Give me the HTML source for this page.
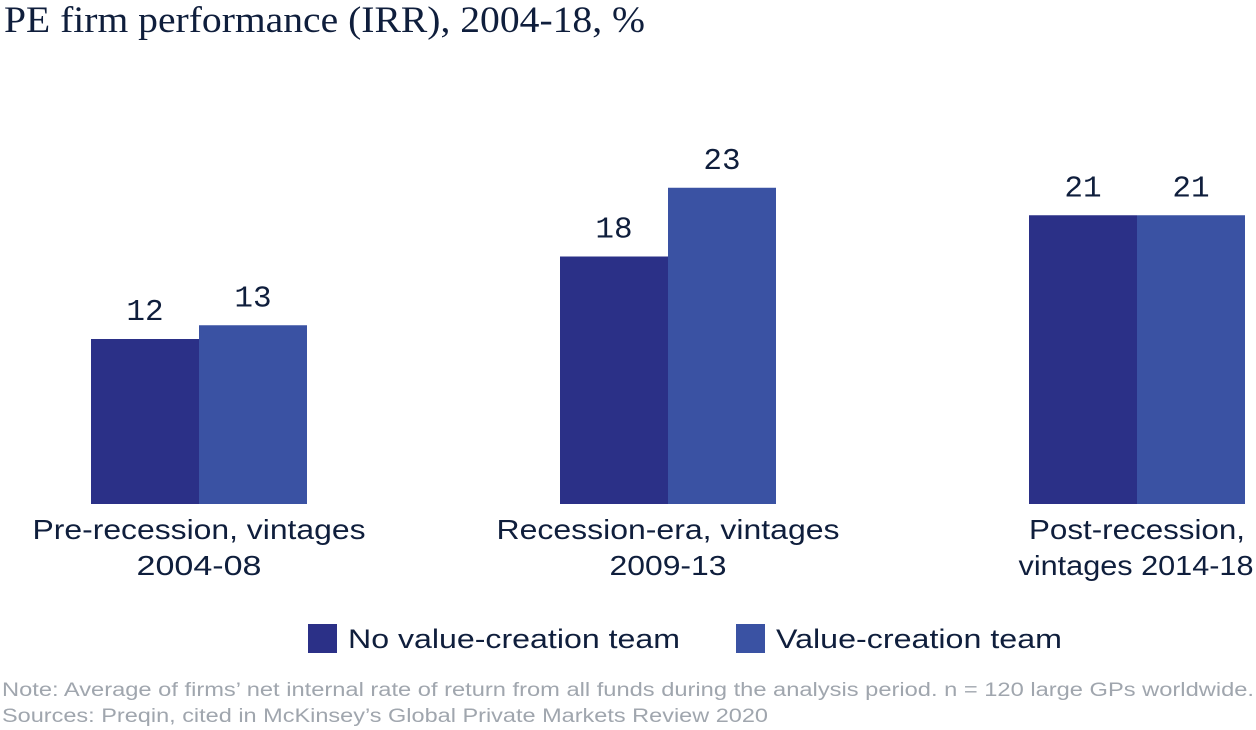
<!DOCTYPE html>
<html><head><meta charset="utf-8"><style>
body{margin:0;background:#fff;width:1256px;height:730px;overflow:hidden}
svg{display:block}
</style></head><body>
<svg id="chart" width="1256" height="730">
<text x="4" y="32" font-family="Liberation Serif, serif" font-size="37" textLength="641" lengthAdjust="spacingAndGlyphs" fill="#0f1e3c">PE firm performance (IRR), 2004-18, %</text>
<g id="bars"></g>
<g>
<rect x="308" y="624" width="29" height="29" fill="#2b3087"/>
<text x="348" y="648" font-family="Liberation Sans, sans-serif" font-size="27" textLength="332" lengthAdjust="spacingAndGlyphs" fill="#0f1e3c">No value-creation team</text>
<rect x="736" y="624" width="29" height="29" fill="#3a52a3"/>
<text x="776" y="648" font-family="Liberation Sans, sans-serif" font-size="27" textLength="286" lengthAdjust="spacingAndGlyphs" fill="#0f1e3c">Value-creation team</text>
</g>
<text x="2" y="696" font-family="Liberation Sans, sans-serif" font-size="19" textLength="1252" lengthAdjust="spacingAndGlyphs" fill="#a0a6ae">Note:  Average of firms’ net internal rate of return from all funds during the analysis period. n = 120 large GPs worldwide.</text>
<text x="2" y="722" font-family="Liberation Sans, sans-serif" font-size="19" textLength="766" lengthAdjust="spacingAndGlyphs" fill="#a0a6ae">Sources: Preqin, cited in McKinsey’s Global Private Markets Review 2020</text>
</svg>
<script>
const categories = [["Pre-recession, vintages","2004-08"],["Recession-era, vintages","2009-13"],["Post-recession,","vintages 2014-18"]];
const noTeam = [12, 18, 21];
const withTeam = [13, 23, 21];
const NS="http://www.w3.org/2000/svg";
const g=document.getElementById('bars');
const base=504, scale=13.75, bw=108, centers=[199,668,1137];
const labelWidths=[[333,125],[343,117],[216,235]];
const labelCenters=[[199,199],[668,668],[1137,1136]];
function y(v){return base - v*scale;}
function mk(tag,attrs){const e=document.createElementNS(NS,tag);for(const k in attrs)e.setAttribute(k,attrs[k]);g.appendChild(e);return e;}
categories.forEach((c,i)=>{
  [[noTeam,'#2b3087',-bw,'no-team'],[withTeam,'#3a52a3',0,'team']].forEach(([arr,col,off,nm])=>{
    const v=arr[i];
    const r=mk('rect',{x:centers[i]+off,y:y(v),width:bw,height:base-y(v),fill:col});
    
    
    const t=mk('text',{x:centers[i]+off+bw/2,y:y(v)-19,'text-anchor':'middle','font-family':'Liberation Mono, monospace','font-size':'31',fill:'#0f1e3c'});
    t.textContent=v;
    
    
  });
  c.forEach((line,j)=>{
    const w=labelWidths[i][j];
    const t=mk('text',{x:labelCenters[i][j]-w/2,y:539+j*36,textLength:w,lengthAdjust:'spacingAndGlyphs','font-family':'Liberation Sans, sans-serif','font-size':'28',fill:'#0f1e3c'});
    t.textContent=line;
    
    
  });
});
</script>
</body></html>
